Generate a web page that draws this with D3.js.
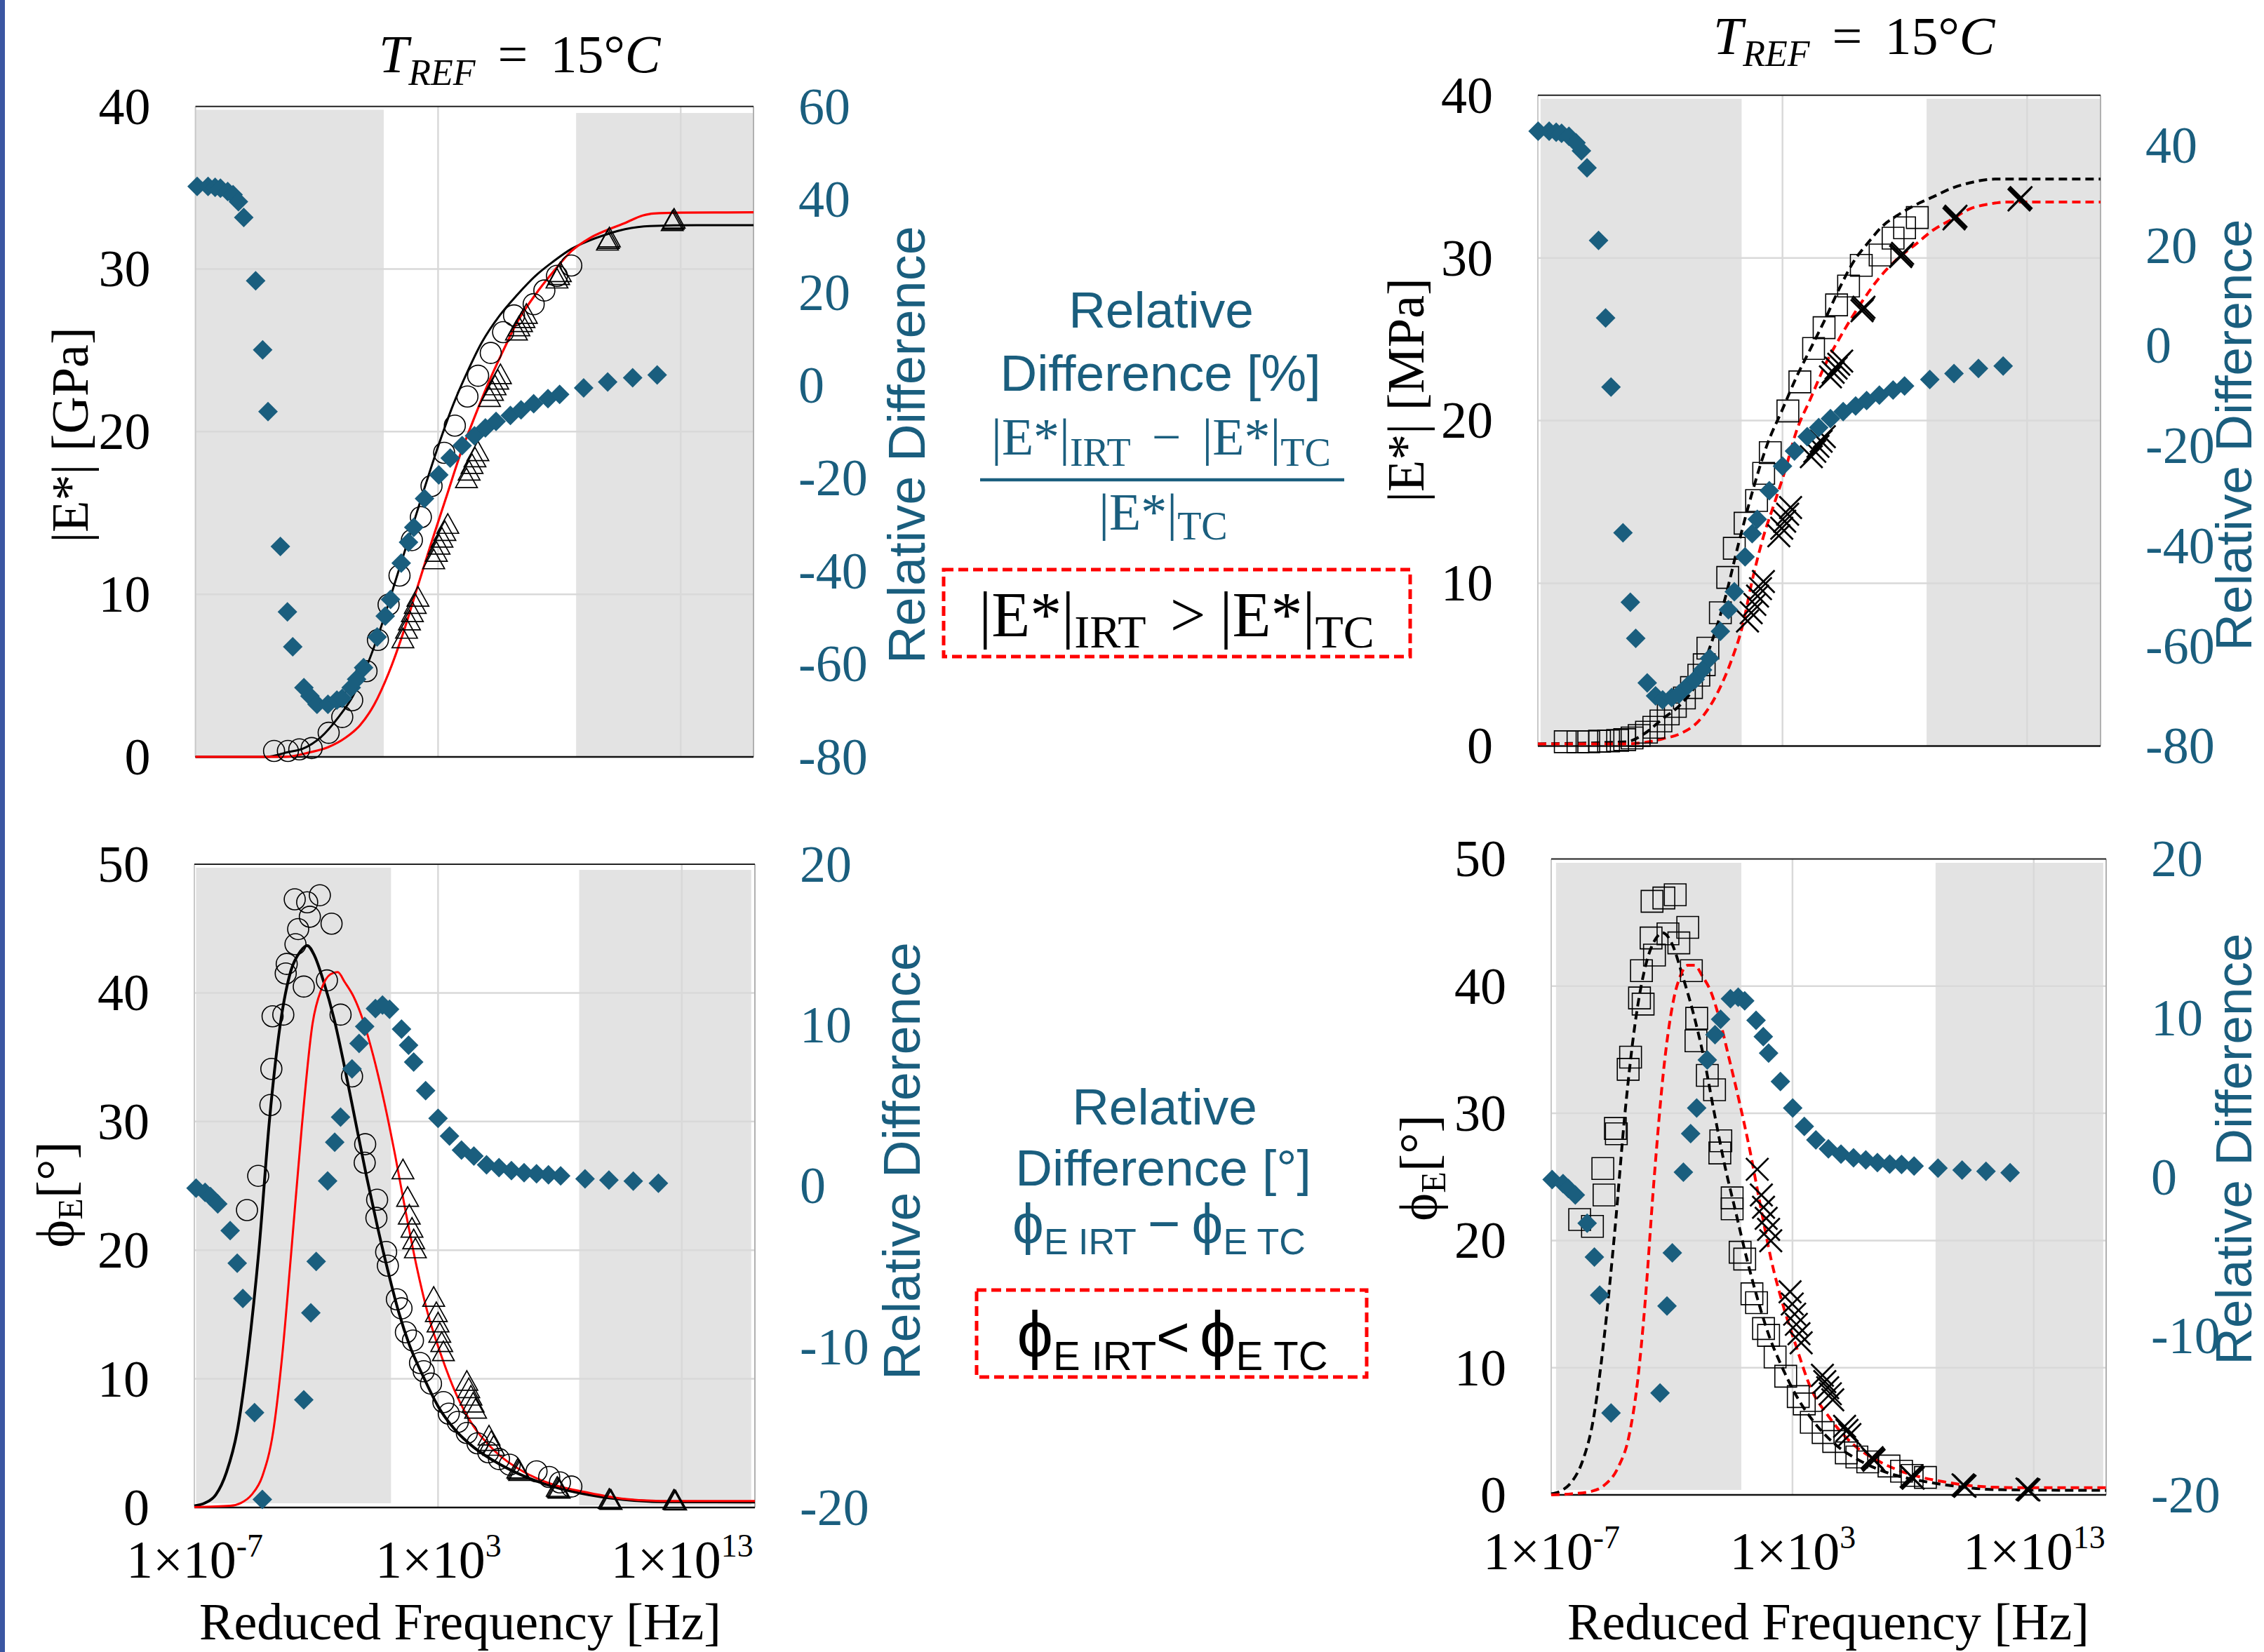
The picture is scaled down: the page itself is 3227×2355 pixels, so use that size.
<!DOCTYPE html>
<html><head><meta charset="utf-8">
<script src="https://cdn.jsdelivr.net/npm/d3@7"></script>
<style>body{margin:0;background:#fff}svg{display:block}</style>
</head><body>
<script>
// ================= DATA (x = log10 of reduced frequency) =================
const xTickExps = [-7, 3, 13];
const gridExps = [3, 13];

// ---- Top-left: |E*| [GPa] ----
const tlLeftTicks = [0, 10, 20, 30, 40];
const tlRightTicks = [-80, -60, -40, -20, 0, 20, 40, 60];
const tlBands = [[-7, 0.76, 39.8, 0], [8.69, 16, 39.6, 0]];
const tlDiff = [[-6.93,42.8],[-6.48,42.8],[-6.19,42.6],[-5.97,42.4],[-5.67,41.7],[-5.45,41.0],[-5.23,39.5],[-5.01,36.1],[-4.52,22.5],[-4.23,7.6],[-4.01,-5.7],[-3.50,-34.7],[-3.21,-48.8],[-2.99,-56.3],[-2.53,-65.1],[-2.28,-66.9],[-1.99,-68.7],[-1.54,-68.7],[-1.17,-67.8],[-0.95,-67.4],[-0.58,-65.1],[-0.36,-63.3],[-0.07,-60.8],[0.49,-54.2],[0.82,-49.7],[1.04,-46.1],[1.48,-38.3],[1.78,-33.8],[2.00,-30.6],[2.44,-24.4],[3.03,-19.3],[3.50,-15.7],[3.99,-13.0],[4.50,-10.9],[4.95,-9.2],[5.39,-7.8],[5.98,-6.5],[6.42,-5.3],[6.94,-4.0],[7.53,-2.9],[8.01,-2.0],[9.00,-0.6],[9.99,0.7],[11.02,1.6],[12.03,2.2]];
const tlTcData = [[-3.76,0.36],[-3.19,0.36],[-2.72,0.46],[-2.21,0.54],[-1.51,1.48],[-0.95,2.45],[-0.54,3.48],[0.05,5.27],[0.52,7.19],[0.96,9.36],[1.41,11.15],[1.92,13.33],[2.29,14.74],[2.73,16.66],[3.25,18.70],[3.69,20.37],[4.21,22.16],[4.65,23.44],[5.17,24.84],[5.68,26.12],[6.13,27.15],[6.94,27.84],[7.38,28.68],[7.90,29.58],[8.49,30.22]];
const tlIrtData = [[1.55,7.19],[1.70,7.78],[1.82,8.29],[1.94,8.80],[2.06,9.31],[2.17,9.75],[2.82,12.05],[2.93,12.51],[3.04,12.95],[3.16,13.38],[3.28,13.79],[3.40,14.23],[4.17,17.04],[4.28,17.50],[4.40,17.91],[4.52,18.32],[4.64,18.70],[5.12,22.03],[5.24,22.41],[5.35,22.75],[5.46,23.10],[5.57,23.44],[6.23,26.12],[6.33,26.38],[6.44,26.64],[6.54,26.89],[6.64,27.15],[7.90,29.32],[7.97,29.53],[8.04,29.71],[9.98,31.65],[10.02,31.75],[10.06,31.85],[12.65,32.85],[12.69,32.93],[12.73,33.0]];
const tlTcModel = [[-7,0],[-4.05,0],[-3.17,0.3],[-2.58,0.5],[-1.84,1.2],[-1.10,2.45],[-0.51,3.74],[0.08,5.65],[0.67,8.08],[1.26,10.90],[1.85,13.71],[2.44,16.53],[3.03,19.22],[3.62,21.65],[4.21,23.69],[4.80,25.48],[5.54,27.15],[6.27,28.43],[7.01,29.58],[7.75,30.47],[8.49,31.24],[9.22,31.75],[9.96,32.14],[10.70,32.45],[11.73,32.65],[13.65,32.70],[16,32.70]];
const tlIrtModel = [[-7,0],[-3.31,0],[-2.28,0.28],[-1.54,0.59],[-0.81,1.18],[-0.22,1.94],[0.37,3.22],[0.96,5.14],[1.55,7.57],[2.14,10.39],[2.73,13.20],[3.32,15.89],[3.91,18.58],[4.50,20.88],[5.09,23.05],[5.68,24.97],[6.27,26.76],[7.01,28.43],[7.75,29.84],[8.49,31.10],[9.22,31.88],[9.96,32.40],[10.70,32.83],[11.43,33.29],[11.88,33.42],[13.0,33.47],[16,33.49]];

// ---- Top-right: |E*| [MPa] ----
const trLeftTicks = [0, 10, 20, 30, 40];
const trRightTicks = [-80, -60, -40, -20, 0, 20, 40];
const trBands = [[-6.89, 1.33, 39.78, 0], [8.89, 15.99, 39.78, 0]];
const trDiff = [[-6.99,42.8],[-6.54,42.8],[-6.25,42.6],[-6.03,42.4],[-5.73,41.8],[-5.44,40.5],[-5.22,38.9],[-4.99,35.5],[-4.52,21.0],[-4.23,5.5],[-4.01,-8.3],[-3.52,-37.4],[-3.22,-51.3],[-3.00,-58.5],[-2.53,-67.4],[-2.19,-70.0],[-1.90,-70.8],[-1.53,-70.3],[-1.23,-69.6],[-0.86,-67.9],[-0.57,-66.7],[-0.27,-64.8],[0.02,-62.5],[0.46,-57.1],[0.79,-52.8],[1.03,-49.2],[1.47,-42.2],[1.76,-37.6],[1.97,-34.7],[2.46,-29.0],[3.00,-24.1],[3.49,-21.1],[4.01,-18.2],[4.48,-16.4],[4.96,-14.6],[5.48,-13.2],[5.99,-12.1],[6.44,-11.0],[6.96,-9.9],[7.52,-8.9],[7.99,-8.1],[9.02,-6.8],[10.01,-5.6],[11.01,-4.6],[12.02,-4.1]];
const trTcData = [[-5.88,0.26],[-5.36,0.26],[-4.92,0.26],[-4.48,0.29],[-4.11,0.31],[-3.74,0.34],[-3.45,0.39],[-3.15,0.49],[-2.86,0.64],[-2.56,0.85],[-2.26,1.15],[-1.97,1.54],[-1.67,1.97],[-1.38,2.43],[-1.01,2.95],[-0.72,3.59],[-0.42,4.35],[-0.20,4.99],[-0.05,6.01],[0.46,8.19],[0.76,10.36],[1.03,12.15],[1.47,13.69],[1.94,15.09],[2.23,16.76],[2.50,18.03],[3.22,20.59],[3.71,22.38],[4.27,24.43],[4.70,25.71],[5.21,27.11],[5.70,28.27],[6.22,29.54],[6.99,30.18],[7.52,31.21],[7.99,31.85],[8.51,32.48]];
const trIrtData = [[1.57,7.68],[1.72,8.19],[1.87,8.70],[1.98,9.21],[2.10,9.67],[2.22,10.11],[2.85,12.92],[2.97,13.38],[3.09,13.81],[3.21,14.25],[3.33,14.66],[4.18,17.78],[4.32,18.11],[4.45,18.42],[4.58,18.73],[4.71,19.01],[4.96,22.69],[5.07,22.97],[5.19,23.23],[5.30,23.46],[5.42,23.66],[6.25,26.75],[6.29,26.86],[6.33,26.97],[7.83,30.08],[7.87,30.18],[7.91,30.28],[10.01,32.40],[10.05,32.48],[10.09,32.56],[12.67,33.56],[12.71,33.64],[12.75,33.70]];
const trTcModel = [[-7,0.13],[-3.37,0.26],[-2.63,0.77],[-1.90,1.67],[-1.16,2.56],[-0.57,3.71],[0.02,6.01],[0.61,8.83],[1.20,12.41],[1.79,15.73],[2.38,18.55],[2.97,20.59],[3.56,22.64],[4.15,24.43],[4.74,26.22],[5.33,28.14],[5.92,29.80],[6.51,30.95],[7.10,31.97],[7.69,32.61],[8.43,33.25],[9.17,33.76],[9.91,34.28],[10.64,34.61],[11.68,34.84],[13.59,34.84],[16,34.84]];
const trIrtModel = [[-7,0.13],[-3.37,0.13],[-1.90,0.44],[-1.16,0.77],[-0.42,1.54],[0.32,3.20],[0.91,5.25],[1.35,7.29],[1.79,10.36],[2.23,12.92],[2.68,14.97],[3.12,17.01],[3.56,19.31],[4.15,21.36],[4.74,23.41],[5.48,25.45],[6.22,27.24],[6.96,28.78],[7.69,29.93],[8.43,30.82],[9.17,31.72],[9.91,32.36],[10.64,33.00],[11.53,33.33],[12.12,33.43],[16,33.43]];

// ---- Bottom-left: phase angle [deg] ----
const blLeftTicks = [0, 10, 20, 30, 40, 50];
const blRightTicks = [-20, -10, 0, 10, 20];
const blBands = [[-6.93, 1.07, 49.73, 0.33], [8.79, 15.85, 49.56, 0.16]];
const blDiff = [[-6.93,-0.14],[-6.56,-0.40],[-6.34,-0.66],[-6.04,-1.12],[-5.53,-2.78],[-5.24,-4.81],[-5.01,-7.0],[-4.53,-14.1],[-4.21,-19.5],[-2.51,-13.3],[-2.22,-7.9],[-2.0,-4.7],[-1.53,0.31],[-1.24,2.72],[-1.0,4.28],[-0.53,7.27],[-0.24,8.86],[-0.01,9.91],[0.43,11.03],[0.72,11.24],[1.01,10.98],[1.50,9.75],[1.79,8.75],[2.0,7.70],[2.49,5.92],[3.0,4.20],[3.47,3.10],[3.96,2.23],[4.47,1.85],[4.99,1.31],[5.5,1.13],[6.01,0.95],[6.53,0.82],[7.04,0.75],[7.53,0.69],[8.03,0.62],[9.03,0.44],[10.01,0.36],[11.01,0.29],[12.04,0.16]];
const blTcData = [[-2.88,47.27],[-2.37,47.04],[-1.85,47.59],[-2.26,45.92],[-1.37,45.38],[-2.74,44.96],[-2.85,43.78],[-3.21,42.25],[-3.25,41.51],[-2.51,40.49],[-1.56,40.97],[-3.79,38.18],[-3.35,38.31],[-1.0,38.31],[-3.84,34.09],[-3.88,31.28],[-0.53,33.51],[-4.38,25.78],[-4.84,23.12],[0.01,28.24],[-0.01,26.80],[0.5,23.92],[0.47,22.51],[0.87,19.86],[0.94,18.80],[1.31,16.18],[1.5,15.48],[1.68,13.62],[1.97,12.98],[2.26,11.23],[2.41,10.59],[2.71,9.63],[3.22,8.19],[3.44,7.29],[3.81,6.65],[4.18,5.79],[4.62,4.99],[5.06,4.29],[5.5,3.77],[5.94,3.33],[7.04,2.81],[7.56,2.37],[8.0,1.95],[8.47,1.63]];
const blIrtData = [[1.56,26.16],[1.75,24.02],[1.82,22.64],[1.93,21.62],[2.0,20.72],[2.07,20.02],[2.82,16.25],[2.93,15.06],[3.0,14.26],[3.07,13.46],[3.15,12.73],[3.22,12.02],[4.18,9.72],[4.26,9.15],[4.35,8.57],[4.44,8.03],[4.54,7.55],[5.09,5.47],[5.18,5.05],[5.28,4.67],[6.27,2.9],[6.31,2.81],[6.35,2.72],[7.89,1.48],[7.93,1.41],[7.97,1.34],[10.02,0.55],[10.06,0.51],[10.10,0.47],[12.67,0.48],[12.71,0.45],[12.75,0.42]];
const blTcModel = [[-7,0.13],[-6.56,0.35],[-6.12,0.99],[-5.68,2.75],[-5.24,5.95],[-4.79,12.02],[-4.35,20.02],[-3.91,30.25],[-3.47,37.61],[-3.03,41.77],[-2.66,43.20],[-2.37,43.68],[-2.07,42.89],[-1.71,40.97],[-1.26,37.93],[-0.82,34.09],[-0.38,29.93],[0.06,25.78],[0.5,21.94],[0.94,18.42],[1.38,15.22],[1.82,12.66],[2.41,10.11],[3.0,7.87],[3.74,5.95],[4.47,4.67],[5.5,3.39],[6.53,2.43],[7.71,1.63],[9.18,0.99],[10.65,0.61],[12.12,0.45],[16,0.42]];
const blIrtModel = [[-7,0.03],[-5.53,0.13],[-5.09,0.35],[-4.65,0.99],[-4.21,2.43],[-3.76,5.95],[-3.40,11.7],[-3.03,19.7],[-2.59,29.61],[-2.15,37.61],[-1.78,40.33],[-1.41,41.45],[-1.12,41.61],[-0.82,40.81],[-0.46,39.69],[-0.09,37.93],[0.35,35.05],[0.79,31.53],[1.24,27.37],[1.68,22.9],[2.12,18.74],[2.56,15.22],[3.15,11.71],[3.74,8.83],[4.47,6.27],[5.35,4.35],[6.53,2.75],[7.71,1.79],[9.18,1.15],[10.65,0.67],[12.12,0.51],[16,0.51]];

// ---- Bottom-right: phase angle [deg] ----
const brLeftTicks = [0, 10, 20, 30, 40, 50];
const brRightTicks = [-20, -10, 0, 10, 20];
const brBands = [[-6.8, 0.88, 49.7, 0.39], [8.93, 15.88, 49.7, 0.39]];
const brDiff = [[-6.96,-0.16],[-6.51,-0.42],[-6.29,-0.73],[-6.0,-1.14],[-5.51,-2.91],[-5.21,-5.04],[-4.99,-7.43],[-4.52,-14.85],[-2.49,-13.59],[-2.2,-8.12],[-1.98,-4.78],[-1.52,0.30],[-1.22,2.73],[-0.97,4.33],[-0.53,7.36],[-0.21,8.95],[0.02,9.92],[0.43,11.21],[0.75,11.31],[1.02,11.08],[1.49,9.85],[1.79,8.82],[2.01,7.79],[2.50,6.0],[3.01,4.33],[3.49,3.18],[3.97,2.33],[4.49,1.76],[5.01,1.43],[5.53,1.20],[6.04,1.07],[6.52,0.91],[7.03,0.81],[7.52,0.78],[8.04,0.68],[9.03,0.55],[10.03,0.43],[11.02,0.35],[12.02,0.27]];
const brTcData = [[-2.82,46.67],[-2.33,46.93],[-1.86,47.19],[-2.86,43.79],[-2.16,44.11],[-1.34,44.62],[-1.71,43.40],[-2.72,42.44],[-3.26,41.22],[-1.19,41.22],[-3.34,39.07],[-3.19,38.59],[-0.97,37.47],[-1.0,35.70],[-3.71,34.42],[-3.81,33.46],[-4.34,28.81],[-4.30,28.39],[-4.86,25.66],[-4.81,23.58],[-5.82,21.65],[-5.29,21.11],[-0.53,32.98],[-0.23,31.85],[0.03,27.84],[-0.01,26.88],[0.50,23.35],[0.50,22.49],[0.83,19.08],[1.02,18.54],[1.32,15.81],[1.51,15.11],[1.80,13.08],[2.01,12.54],[2.28,10.84],[2.72,9.33],[3.24,7.73],[3.49,7.15],[3.78,5.71],[4.27,4.90],[4.71,4.20],[5.23,3.30],[5.67,2.98],[6.12,2.59],[7.0,2.27],[7.52,1.86],[7.96,1.53],[8.51,1.37]];
const brIrtData = [[1.54,25.60],[1.71,23.58],[1.80,22.61],[1.91,21.75],[2.01,20.88],[2.10,19.98],[2.90,15.97],[2.99,15.01],[3.09,14.21],[3.16,13.41],[3.27,12.67],[3.36,11.96],[4.24,9.40],[4.34,8.91],[4.46,8.43],[4.57,7.95],[4.67,7.47],[5.16,5.39],[5.26,5.07],[5.38,4.74],[6.30,2.92],[6.34,2.82],[6.38,2.72],[7.92,1.45],[7.96,1.38],[8.0,1.31],[10.07,0.78],[10.11,0.73],[10.15,0.68],[12.72,0.45],[12.76,0.41],[12.80,0.38]];
const brTcModel = [[-7,0.09],[-6.59,0.32],[-6.14,1.05],[-5.70,2.66],[-5.26,5.87],[-4.81,12.28],[-4.37,20.62],[-3.93,30.25],[-3.48,37.63],[-3.04,41.96],[-2.67,43.72],[-2.38,44.20],[-2.01,43.40],[-1.56,40.84],[-1.12,37.95],[-0.68,34.42],[-0.23,29.93],[0.21,25.76],[0.65,22.23],[1.09,18.70],[1.54,15.49],[1.98,12.77],[2.57,10.04],[3.16,7.79],[3.90,5.71],[4.79,3.94],[5.82,2.66],[7.0,1.70],[8.48,1.05],[9.96,0.64],[11.43,0.41],[16,0.35]];
const brIrtModel = [[-7,0.0],[-6.14,0.09],[-5.40,0.25],[-4.81,0.74],[-4.22,2.18],[-3.78,4.58],[-3.41,9.08],[-3.12,14.85],[-2.75,24.47],[-2.30,34.10],[-1.93,38.91],[-1.64,40.84],[-1.34,41.64],[-1.05,41.64],[-0.75,40.84],[-0.38,39.55],[-0.01,37.31],[0.36,34.42],[0.80,30.89],[1.24,27.04],[1.69,22.55],[2.13,18.38],[2.57,15.17],[3.16,11.64],[3.75,8.43],[4.49,6.19],[5.53,3.94],[6.56,2.66],[7.74,1.70],[9.22,1.05],[10.70,0.67],[12.17,0.57],[16,0.57]];

// ================= DRAWING =================
const W = 3227, H = 2355;
const SERIF = "'Liberation Serif','Times New Roman',serif";
const SANS = "'Liberation Sans',Arial,sans-serif";
const TEAL = "#1a5e7e";
const BAND = "#e3e3e3";
const GRID = "#d9d9d9";

const svg = d3.select("body").append("svg").attr("width", W).attr("height", H)
  .attr("viewBox", `0 0 ${W} ${H}`);
svg.append("rect").attr("width", W).attr("height", H).attr("fill", "#fff");
svg.append("rect").attr("x", 0).attr("y", 0).attr("width", 7).attr("height", H).attr("fill", "#3b56a2");

const mk = {
  diamond: (r) => `M0,${-r}L${r},0L0,${r}L${-r},0Z`,
  triangle: (s) => { const h = s * 0.9; return `M0,${-h*0.6}L${s/2},${h*0.4}L${-s/2},${h*0.4}Z`; },
  square: (s) => `M${-s/2},${-s/2}h${s}v${s}h${-s}Z`,
  x: (s) => `M${-s/2},${-s/2}L${s/2},${s/2}M${s/2},${-s/2}L${-s/2},${s/2}`
};

function drawPanel(p) {
  const g = svg.append("g");
  const x = d3.scaleLog().domain([1e-7, 1e16]).range([p.x0, p.x1]);
  const y = d3.scaleLinear().domain(p.yDom).range([p.y1, p.y0]);
  const yr = d3.scaleLinear().domain(p.rDom).range([p.y1, p.y0]);
  const X = lf => x(Math.pow(10, lf));

  p.bands.forEach(b => g.append("rect")
    .attr("x", X(b[0])).attr("width", X(b[1]) - X(b[0]))
    .attr("y", y(b[2])).attr("height", y(b[3]) - y(b[2])).attr("fill", BAND));
  p.leftTicks.filter(t => t > p.yDom[0] && t < p.yDom[1]).forEach(t =>
    g.append("line").attr("x1", p.x0).attr("x2", p.x1).attr("y1", y(t)).attr("y2", y(t))
      .attr("stroke", GRID).attr("stroke-width", 2.5));
  gridExps.forEach(e => g.append("line").attr("x1", X(e)).attr("x2", X(e))
    .attr("y1", p.y0).attr("y2", p.y1).attr("stroke", GRID).attr("stroke-width", 2.5));
  g.append("line").attr("x1", p.x0).attr("x2", p.x0).attr("y1", p.y0).attr("y2", p.y1).attr("stroke", "#c8c8c8").attr("stroke-width", 2);
  g.append("line").attr("x1", p.x1).attr("x2", p.x1).attr("y1", p.y0).attr("y2", p.y1).attr("stroke", "#b0b0b0").attr("stroke-width", 2);
  g.append("line").attr("x1", p.x0).attr("x2", p.x1).attr("y1", p.y0).attr("y2", p.y0).attr("stroke", "#222").attr("stroke-width", 2);
  g.append("line").attr("x1", p.x0).attr("x2", p.x1).attr("y1", p.y1).attr("y2", p.y1).attr("stroke", "#111").attr("stroke-width", 2.5);

  const la = g.append("g").attr("transform", `translate(${p.x0},0)`)
    .call(d3.axisLeft(y).tickValues(p.leftTicks).tickSize(0).tickPadding(64).tickFormat(d => String(d)));
  la.select(".domain").remove();
  la.selectAll("text").attr("font-family", SERIF).attr("font-size", 74).attr("fill", "#000").attr("dy", "0.33em");
  const ra = g.append("g").attr("transform", `translate(${p.x1},0)`)
    .call(d3.axisRight(yr).tickValues(p.rightTicks).tickSize(0).tickPadding(64).tickFormat(d => String(d)));
  ra.select(".domain").remove();
  ra.selectAll("text").attr("font-family", SERIF).attr("font-size", 74).attr("fill", TEAL).attr("dy", "0.33em");

  if (p.xLabels) {
    const xa = g.append("g").attr("transform", `translate(0,${p.y1})`)
      .call(d3.axisBottom(x).tickValues(xTickExps.map(e => Math.pow(10, e))).tickSize(0).tickFormat(""));
    xa.select(".domain").remove();
    xa.selectAll(".tick text").each(function(d) {
      const t = d3.select(this).attr("y", p.xLabelDy).attr("dy", 0)
        .attr("font-family", SERIF).attr("fill", "#000").attr("text-anchor", "middle");
      const e = Math.round(Math.log10(d));
      t.append("tspan").attr("font-size", 76).text("1×10");
      t.append("tspan").attr("font-size", 46).attr("dy", -30).text(String(e));
    });
  }

  const line = d3.line().x(d => X(d[0])).y(d => y(d[1])).curve(d3.curveMonotoneX);
  g.append("path").datum(p.tcModel).attr("d", line).attr("fill", "none")
    .attr("stroke", "#000").attr("stroke-width", p.lwBlack).attr("stroke-dasharray", p.dash || null);
  g.append("path").datum(p.irtModel).attr("d", line).attr("fill", "none")
    .attr("stroke", "#ff0000").attr("stroke-width", p.lwRed).attr("stroke-dasharray", p.dash || null);

  if (p.tcMarker === "circle") {
    g.selectAll(null).data(p.tcData).join("circle").attr("cx", d => X(d[0])).attr("cy", d => y(d[1]))
      .attr("r", 15).attr("fill", "none").attr("stroke", "#000").attr("stroke-width", 1.6);
  } else {
    g.selectAll(null).data(p.tcData).join("path").attr("transform", d => `translate(${X(d[0])},${y(d[1])})`)
      .attr("d", mk.square(31)).attr("fill", "none").attr("stroke", "#000").attr("stroke-width", 1.6);
  }
  if (p.irtMarker === "triangle") {
    g.selectAll(null).data(p.irtData).join("path").attr("transform", d => `translate(${X(d[0])},${y(d[1])})`)
      .attr("d", mk.triangle(31)).attr("fill", "none").attr("stroke", "#000").attr("stroke-width", 1.7);
  } else {
    g.selectAll(null).data(p.irtData).join("path").attr("transform", d => `translate(${X(d[0])},${y(d[1])})`)
      .attr("d", mk.x(32)).attr("fill", "none").attr("stroke", "#000").attr("stroke-width", 2.8);
  }
  g.selectAll(null).data(p.diff).join("path").attr("transform", d => `translate(${X(d[0])},${yr(d[1])})`)
    .attr("d", mk.diamond(14)).attr("fill", TEAL);
}

drawPanel({x0: 278.6, x1: 1074, y0: 151.8, y1: 1078.9, yDom: [0, 40], rDom: [-80, 60],
  leftTicks: tlLeftTicks, rightTicks: tlRightTicks, bands: tlBands, diff: tlDiff,
  tcData: tlTcData, irtData: tlIrtData, tcModel: tlTcModel, irtModel: tlIrtModel,
  tcMarker: "circle", irtMarker: "triangle", lwBlack: 3, lwRed: 3.2});
drawPanel({x0: 2192, x1: 2994, y0: 135.7, y1: 1063.4, yDom: [0, 40], rDom: [-80, 50],
  leftTicks: trLeftTicks, rightTicks: trRightTicks, bands: trBands, diff: trDiff,
  tcData: trTcData, irtData: trIrtData, tcModel: trTcModel, irtModel: trIrtModel,
  tcMarker: "square", irtMarker: "x", lwBlack: 4, lwRed: 4, dash: "12,7"});
drawPanel({x0: 277, x1: 1076, y0: 1232, y1: 2149, yDom: [0, 50], rDom: [-20, 20],
  leftTicks: blLeftTicks, rightTicks: blRightTicks, bands: blBands, diff: blDiff,
  tcData: blTcData, irtData: blIrtData, tcModel: blTcModel, irtModel: blIrtModel,
  tcMarker: "circle", irtMarker: "triangle", lwBlack: 4, lwRed: 3, xLabels: true, xLabelDy: 100});
drawPanel({x0: 2211, x1: 3002, y0: 1224.5, y1: 2131, yDom: [0, 50], rDom: [-20, 20],
  leftTicks: brLeftTicks, rightTicks: brRightTicks, bands: brBands, diff: brDiff,
  tcData: brTcData, irtData: brIrtData, tcModel: brTcModel, irtModel: brIrtModel,
  tcMarker: "square", irtMarker: "x", lwBlack: 4, lwRed: 4, dash: "12,7", xLabels: true, xLabelDy: 106});

// ---------- texts ----------
function title(x, yb, sub) {
  const t = svg.append("text").attr("x", x).attr("y", yb).attr("font-family", SERIF).attr("fill", "#000");
  t.append("tspan").attr("font-style", "italic").attr("font-size", 76).text("T");
  t.append("tspan").attr("font-style", "italic").attr("font-size", 52).attr("dy", sub).text("REF");
  t.append("tspan").attr("font-size", 76).attr("dy", -sub).attr("dx", 32).text("=");
  t.append("tspan").attr("font-size", 76).attr("dx", 32).text("15°");
  t.append("tspan").attr("font-style", "italic").attr("font-size", 76).text("C");
}
title(540, 103, 18);
title(2442, 77, 17);

function rotText(x, y, size, family, fill) {
  return svg.append("text").attr("transform", `translate(${x},${y}) rotate(-90)`)
    .attr("text-anchor", "middle").attr("font-family", family).attr("font-size", size).attr("fill", fill);
}
rotText(125, 620, 74, SERIF, "#000").text("|E*| [GPa]");
rotText(2029, 556, 74, SERIF, "#000").text("|E*| [MPa]");
[[105, 1703], [2048, 1665]].forEach(([x, y]) => {
  const t = rotText(x, y, 76, SERIF, "#000");
  t.append("tspan").text("ϕ");
  t.append("tspan").attr("font-size", 50).attr("dy", 12).text("E");
  t.append("tspan").attr("dy", -12).text("[°]");
});
[[1318, 634, 74], [3209, 620, 73], [1311, 1655, 74], [3209, 1638, 73]].forEach(([x, y, s]) =>
  rotText(x, y, s, SANS, TEAL).text("Relative Difference"));

[[656, 2337], [2606, 2337]].forEach(([x, y]) =>
  svg.append("text").attr("x", x).attr("y", y).attr("text-anchor", "middle")
    .attr("font-family", SERIF).attr("font-size", 74).attr("fill", "#000").text("Reduced Frequency [Hz]"));

function ctext(x, y, size, family, fill) {
  return svg.append("text").attr("x", x).attr("y", y).attr("text-anchor", "middle")
    .attr("font-family", family).attr("font-size", size).attr("fill", fill);
}
// center annotation (top)
ctext(1655, 467, 73, SANS, TEAL).text("Relative");
ctext(1654, 557, 73, SANS, TEAL).text("Difference [%]");
{
  const t = ctext(1655, 648, 74, SERIF, TEAL);
  t.append("tspan").text("|E*|");
  t.append("tspan").attr("font-size", 56).attr("dy", 16).text("IRT");
  t.append("tspan").attr("dy", -16).attr("dx", 30).text("−");
  t.append("tspan").attr("dx", 30).text("|E*|");
  t.append("tspan").attr("font-size", 56).attr("dy", 16).text("TC");
  svg.append("line").attr("x1", 1397).attr("x2", 1916).attr("y1", 684).attr("y2", 684)
    .attr("stroke", TEAL).attr("stroke-width", 4.5);
  const d = ctext(1658, 755, 74, SERIF, TEAL);
  d.append("tspan").text("|E*|");
  d.append("tspan").attr("font-size", 56).attr("dy", 14).text("TC");
}
svg.append("rect").attr("x", 1345).attr("y", 812).attr("width", 665).attr("height", 124)
  .attr("fill", "none").attr("stroke", "#ff0000").attr("stroke-width", 5).attr("stroke-dasharray", "14,7");
{
  const t = ctext(1677, 907, 90, SERIF, "#000");
  t.append("tspan").text("|E*|");
  t.append("tspan").attr("font-size", 66).attr("dy", 16).text("IRT");
  t.append("tspan").attr("dy", -16).attr("dx", 34).text(">");
  t.append("tspan").attr("dx", 20).text("|E*|");
  t.append("tspan").attr("font-size", 66).attr("dy", 16).text("TC");
}
// center annotation (bottom)
ctext(1660, 1603, 73, SANS, TEAL).text("Relative");
ctext(1658, 1690, 73, SANS, TEAL).text("Difference [°]");
{
  const t = ctext(1652, 1772, 80, SANS, TEAL);
  t.append("tspan").text("ϕ");
  t.append("tspan").attr("font-size", 52).attr("dy", 16).text("E IRT");
  t.append("tspan").attr("dy", -16).attr("dx", 16).text("−");
  t.append("tspan").attr("dx", 16).text("ϕ");
  t.append("tspan").attr("font-size", 52).attr("dy", 16).text("E TC");
}
svg.append("rect").attr("x", 1392).attr("y", 1839).attr("width", 556).attr("height", 124)
  .attr("fill", "none").attr("stroke", "#ff0000").attr("stroke-width", 5).attr("stroke-dasharray", "14,7");
{
  const t = ctext(1671, 1934, 92, SANS, "#000");
  t.append("tspan").text("ϕ");
  t.append("tspan").attr("font-size", 58).attr("dy", 19).text("E IRT");
  t.append("tspan").attr("dy", -19).attr("font-size", 82).text("<");
  t.append("tspan").attr("dx", 14).text("ϕ");
  t.append("tspan").attr("font-size", 58).attr("dy", 19).text("E TC");
}
</script>
</body></html>
